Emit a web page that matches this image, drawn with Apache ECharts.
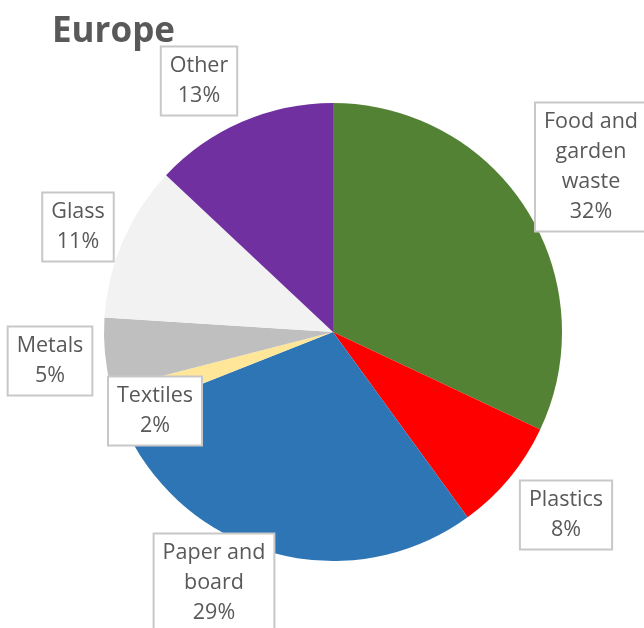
<!DOCTYPE html>
<html><head><meta charset="utf-8">
<script src="https://cdn.jsdelivr.net/npm/echarts@6/dist/echarts.min.js"></script>
<style>html,body{margin:0;padding:0;background:#fff}#c{width:644px;height:628px}</style>
</head><body><div id="c"></div>
<script>
const categories = ['Food and\ngarden\nwaste','Plastics','Paper and\nboard','Textiles','Metals','Glass','Other'];
const values = [32, 8, 29, 2, 5, 11, 13];
const colors = ['#548235','#FF0000','#2E75B6','#FFE699','#BFBFBF','#F2F2F2','#7030A0'];
const labelPos = [[591,167],[566,515],[214,583],[155,411],[50,361],[78,227],[199,81]];

const chart = echarts.init(document.getElementById('c'));
chart.setOption({
  animation: false,
  title: { text: 'Europe', left: 47, top: 10, textStyle: { fontFamily: 'Open Sans', fontWeight: 'bold', fontSize: 35, color: '#595959' } },
  series: [{
    type: 'pie',
    center: [333, 332],
    radius: [0, 229],
    startAngle: 90,
    clockwise: true,
    data: categories.map((c, i) => ({ name: c, value: values[i], itemStyle: { color: colors[i] } })),
    itemStyle: { borderWidth: 0 },
    label: {
      show: true,
      position: 'inside',
      overflow: 'none',
      formatter: p => p.name + '\n' + p.value + '%',
      fontFamily: 'Open Sans', fontSize: 21.5, lineHeight: 30, color: '#595959',
      backgroundColor: '#fff', borderColor: '#C8C8C8', borderWidth: 2,
      padding: [4, 8, 3, 8], align: 'center'
    },
    labelLine: { show: false },
    labelLayout: function (p) {
      const pos = labelPos[p.dataIndex];
      return { x: pos[0], y: pos[1], align: 'center', verticalAlign: 'middle', hideOverlap: false };
    }
  }]
});
</script></body></html>
